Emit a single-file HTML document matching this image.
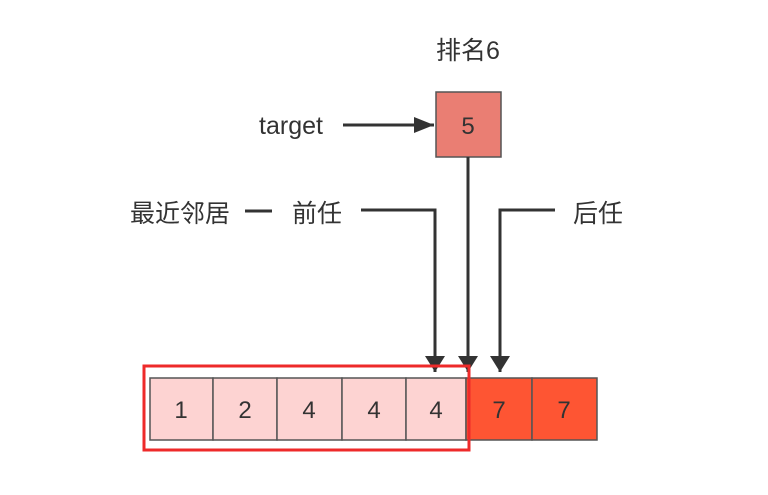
<!DOCTYPE html>
<html><head><style>
body{margin:0;background:#fff;}
svg text{font-family:"Liberation Sans","Noto Sans CJK SC",sans-serif;fill:#333;}
</style></head><body>
<svg width="768" height="490" viewBox="0 0 768 490" xmlns="http://www.w3.org/2000/svg">
<defs>
<marker id="b" viewBox="0 0 10 10" markerWidth="16" markerHeight="20" refX="10" refY="5" orient="auto" markerUnits="userSpaceOnUse" preserveAspectRatio="none"><path d="M0,0 L10,5 L0,10 Z" fill="#333"/></marker>
<marker id="c" viewBox="0 0 10 10" markerWidth="20" markerHeight="16" refX="10" refY="5" orient="auto" markerUnits="userSpaceOnUse" preserveAspectRatio="none"><path d="M0,0 L10,5 L0,10 Z" fill="#333"/></marker></defs>
<text x="468" y="59" font-size="25" text-anchor="middle">排名6</text>
<rect x="436" y="92" width="65" height="65" fill="#ea7e73" stroke="#555" stroke-width="1.5"/>
<text x="468" y="134" font-size="24" text-anchor="middle">5</text>
<text x="291" y="134" font-size="25" text-anchor="middle">target</text>
<line x1="343" y1="125" x2="434" y2="125" stroke="#333" stroke-width="3" marker-end="url(#c)"/>
<text x="180" y="222" font-size="25" text-anchor="middle">最近邻居</text>
<line x1="245" y1="211" x2="272" y2="211" stroke="#333" stroke-width="3"/>
<text x="317" y="222" font-size="25" text-anchor="middle">前任</text>
<text x="598" y="222" font-size="25" text-anchor="middle">后任</text>
<polyline points="361,210 435,210 435,372" fill="none" stroke="#333" stroke-width="3" marker-end="url(#b)"/>
<line x1="468" y1="157" x2="468" y2="372" stroke="#333" stroke-width="3" marker-end="url(#b)"/>
<polyline points="555,210 500,210 500,372" fill="none" stroke="#333" stroke-width="3" marker-end="url(#b)"/>
<g stroke="#555" stroke-width="1.5">
<rect x="150" y="378" width="63" height="62" fill="#fdd3d2"/>
<rect x="213" y="378" width="64" height="62" fill="#fdd3d2"/>
<rect x="277" y="378" width="65" height="62" fill="#fdd3d2"/>
<rect x="342" y="378" width="64" height="62" fill="#fdd3d2"/>
<rect x="406" y="378" width="60" height="62" fill="#fdd3d2"/>
<rect x="466" y="378" width="66" height="62" fill="#fe5533"/>
<rect x="532" y="378" width="65" height="62" fill="#fe5533"/>
</g>
<g font-size="24" text-anchor="middle">
<text x="181" y="418">1</text><text x="245" y="418">2</text><text x="309" y="418">4</text><text x="374" y="418">4</text><text x="436" y="418">4</text><text x="499" y="418">7</text><text x="564" y="418">7</text>
</g>
<rect x="144" y="366" width="325" height="84" fill="none" stroke="#ee2a2a" stroke-width="3"/>
</svg>
</body></html>
